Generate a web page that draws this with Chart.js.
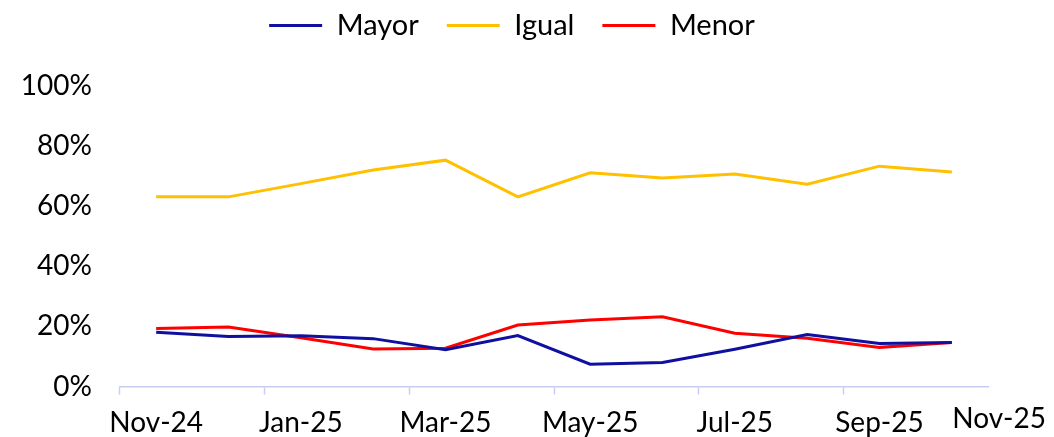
<!DOCTYPE html>
<html>
<head>
<meta charset="utf-8">
<script src="https://cdn.jsdelivr.net/npm/chart.js@4/dist/chart.umd.min.js"></script>
<style>
html,body{margin:0;padding:0;background:#fff;}
#wrap{width:1054px;height:437px;position:relative;}
</style>
</head>
<body>
<div id="wrap"><canvas id="c" width="1054" height="437"></canvas></div>
<script>
const months = ["Nov-24","Dec-24","Jan-25","Feb-25","Mar-25","Apr-25","May-25","Jun-25","Jul-25","Aug-25","Sep-25","Oct-25"];
const xTickLabels = ["Nov-24","Jan-25","Mar-25","May-25","Jul-25","Sep-25","Nov-25"];
const yTicks = [0,20,40,60,80,100];
const mayor = [18.0,16.6,16.9,15.9,12.2,16.9,7.4,8.0,12.4,17.3,14.3,14.6];
const igual = [63.0,63.0,67.4,71.9,75.2,63.0,71.0,69.3,70.6,67.2,73.2,71.3];
const menor = [19.3,19.8,16.2,12.5,12.7,20.4,22.1,23.2,17.7,16.0,13.0,14.6];

const FONT = "Lato";
const axisColor = "#c8cdf2";
const SHIFT = 17;

const legendTweak = {
  id: 'legendTweak',
  beforeInit(chart) {
    const lg = chart.legend;
    const origFit = lg.fit;
    lg.fit = function() {
      origFit.bind(lg)();
      this.height = 85.5 + SHIFT;
    };
    const origDraw = lg.draw;
    lg.draw = function() {
      const ctx = chart.ctx;
      ctx.save();
      ctx.translate(18, 0);
      origDraw.apply(lg, arguments);
      ctx.restore();
    };
  }
};

const lastLabel = {
  id: 'lastLabel',
  afterDraw(chart) {
    const ctx = chart.ctx;
    const xs = chart.scales.x;
    ctx.save();
    ctx.font = "28px " + FONT;
    ctx.fillStyle = "#000";
    ctx.textAlign = "right";
    ctx.textBaseline = "middle";
    ctx.fillText(xTickLabels[xTickLabels.length - 1], chart.width - 8, xs.top + 32);
    ctx.restore();
  }
};

new Chart(document.getElementById('c'), {
  type: 'line',
  data: {
    labels: months,
    datasets: [
      {label: 'Mayor', data: mayor, borderColor: '#1010a0', backgroundColor: '#1010a0', borderWidth: 3, pointRadius: 0, tension: 0},
      {label: 'Igual', data: igual, borderColor: '#ffc000', backgroundColor: '#ffc000', borderWidth: 3, pointRadius: 0, tension: 0},
      {label: 'Menor', data: menor, borderColor: '#ff0000', backgroundColor: '#ff0000', borderWidth: 3, pointRadius: 0, tension: 0}
    ]
  },
  options: {
    responsive: false,
    animation: false,
    layout: {padding: {top: -SHIFT, left: 0, right: 66, bottom: 0}},
    plugins: {
      tooltip: {enabled: false},
      legend: {
        position: 'top',
        align: 'center',
        labels: {
          usePointStyle: true,
          pointStyle: 'line',
          pointStyleWidth: 53,
          boxHeight: 29,
          padding: 28,
          color: '#000',
          font: {family: FONT, size: 29}
        }
      }
    },
    scales: {
      x: {
        type: 'category',
        offset: true,
        afterFit(s) { s.height = 50.5; },
        border: {display: true, color: axisColor, width: 1.5},
        grid: {
          display: true,
          offset: true,
          drawOnChartArea: false,
          drawTicks: true,
          tickLength: 8,
          tickWidth: 1.5,
          tickColor: (c) => (c.index % 2 === 0 ? axisColor : 'rgba(0,0,0,0)')
        },
        ticks: {
          autoSkip: false,
          maxRotation: 0,
          padding: 12,
          color: '#000',
          font: {family: FONT, size: 28},
          callback: (v, i) => (i % 2 === 0 ? xTickLabels[i / 2] : '')
        }
      },
      y: {
        min: 0,
        max: 100,
        afterFit(s) { s.width = 120; },
        afterBuildTicks(s) { s.ticks = yTicks.map(v => ({value: v})); },
        border: {display: false},
        grid: {display: false},
        ticks: {
          padding: 20,
          color: '#000',
          font: {family: FONT, size: 28},
          callback: (v) => v + '%'
        }
      }
    }
  },
  plugins: [legendTweak, lastLabel]
});
</script>
</body>
</html>
